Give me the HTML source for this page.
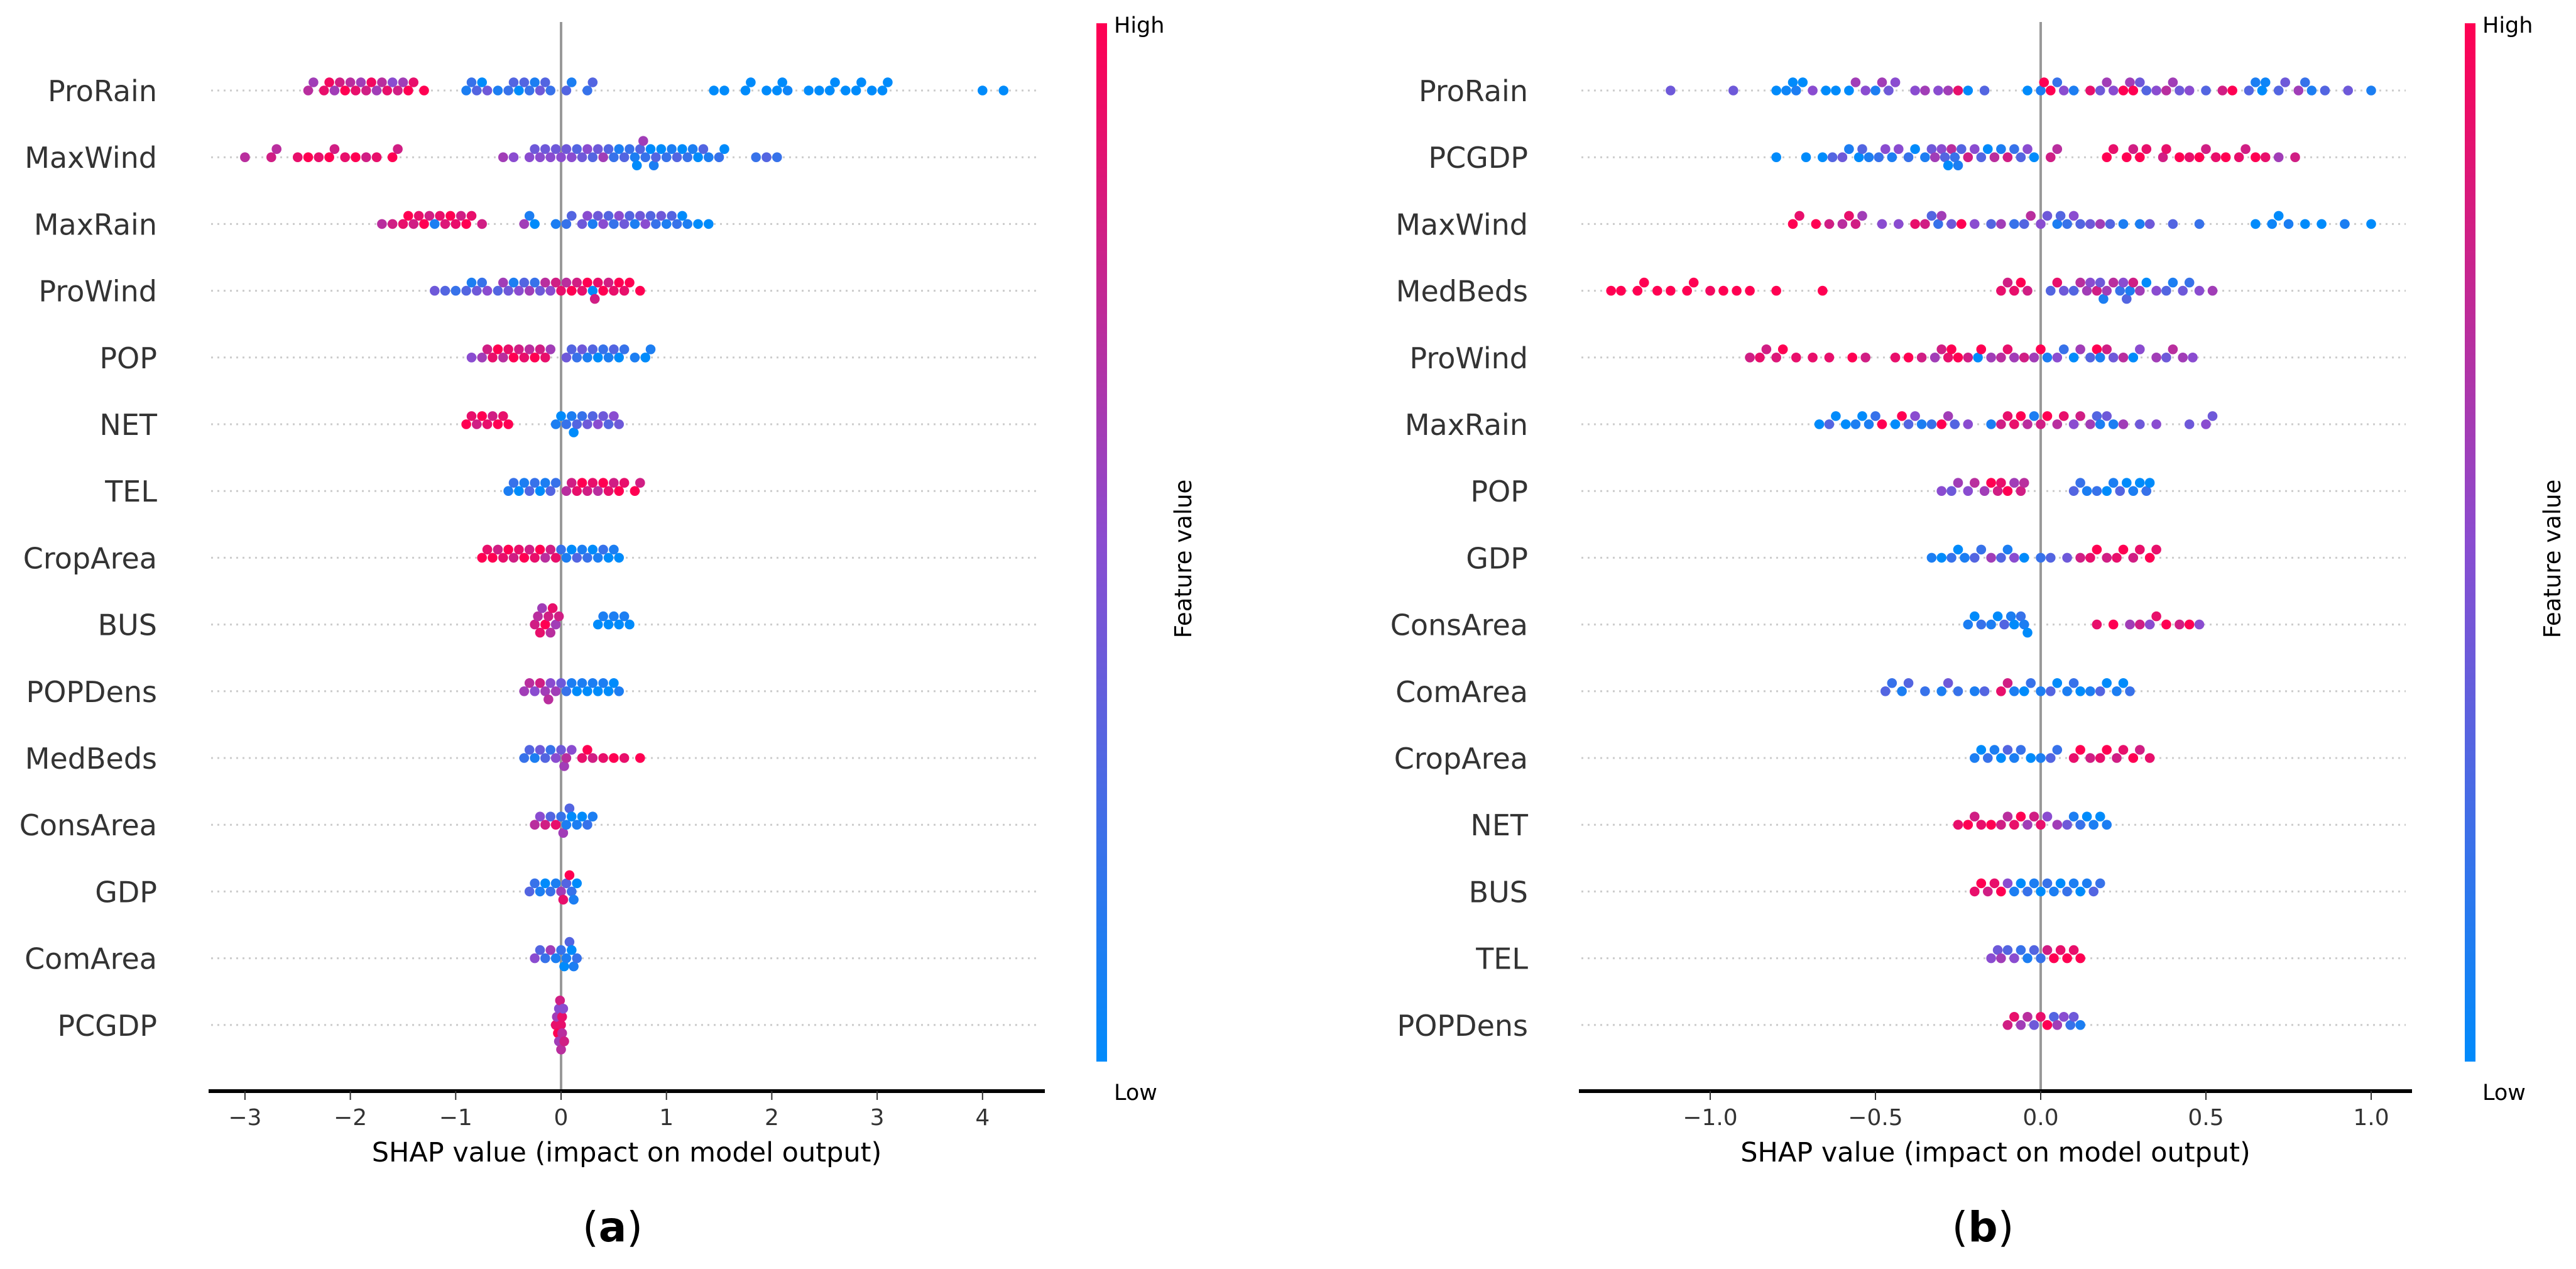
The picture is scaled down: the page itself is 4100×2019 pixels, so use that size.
<!DOCTYPE html>
<html><head><meta charset="utf-8">
<style>
html,body{margin:0;padding:0;background:#fff;}
svg{display:block;}
text{font-family:"DejaVu Sans","Liberation Sans",sans-serif;}
</style></head>
<body>
<svg id="chart" width="4100" height="2019" viewBox="0 0 4100 2019" xmlns="http://www.w3.org/2000/svg">
<defs>
<linearGradient id="cbar" x1="0" y1="1" x2="0" y2="0">
<stop offset="0" stop-color="#008bfb"/><stop offset="0.5" stop-color="#8a4cd0"/><stop offset="1" stop-color="#ff0052"/>
</linearGradient>
</defs>
<g id="panelA"></g>
<g id="panelB"></g>
</svg>
<script>
// ---- Data: panel (a) ----
const featuresA = ["ProRain","MaxWind","MaxRain","ProWind","POP","NET","TEL","CropArea","BUS","POPDens","MedBeds","ConsArea","GDP","ComArea","PCGDP"];
const ticksA = [-3,-2,-1,0,1,2,3,4];
const tickLabelsA = ["\u22123","\u22122","\u22121","0","1","2","3","4"];
// points as "shap:featureValue"
const pointsA = [
"-2.4:.7 -2.35:.6 -2.25:.9 -2.2:.95 -2.15:.6 -2.1:.8 -2.05:1 -2.0:.7 -1.95:.9 -1.9:.6 -1.85:.8 -1.8:.95 -1.75:.6 -1.7:.7 -1.65:.9 -1.6:.5 -1.55:.8 -1.5:.6 -1.45:1 -1.4:.9 -1.3:1 -0.9:.1 -0.85:.2 -0.8:.3 -0.75:0 -0.7:.4 -0.6:.1 -0.5:.2 -0.45:.3 -0.4:0 -0.35:.3 -0.3:.2 -0.25:.1 -0.2:.4 -0.15:.3 -0.1:.2 0.05:.3 0.1:.1 0.25:.2 0.3:.3 1.45:0 1.55:0 1.75:0 1.8:0 1.95:0 2.05:0 2.1:0 2.15:.05 2.35:0 2.45:0 2.55:0 2.6:0 2.7:0 2.8:0 2.85:0 2.95:0 3.05:0 3.1:0 4.0:0 4.2:0",
"-3.0:.7 -2.75:.8 -2.7:.7 -2.5:.9 -2.4:1 -2.3:.9 -2.2:1 -2.15:.8 -2.05:.9 -1.95:1 -1.85:.8 -1.75:.9 -1.6:1 -1.55:.8 -0.55:.6 -0.45:.5 -0.3:.5 -0.25:.4 -0.2:.5 -0.15:.4 -0.1:.5 -0.05:.4 0:.5 0.05:.4 0.1:.5 0.15:.3 0.2:.4 0.25:.5 0.3:.3 0.35:.4 0.4:.6 0.45:.3 0.5:.2 0.55:.1 0.6:.3 0.65:.2 0.7:.1 0.72:0 0.75:.3 0.78:.6 0.8:.2 0.85:0 0.88:.1 0.9:.3 0.95:0 1.0:.2 1.05:.1 1.1:.3 1.15:0 1.2:.2 1.25:.1 1.3:0 1.35:.3 1.4:.1 1.5:.2 1.55:0 1.85:.2 1.95:.3 2.05:.2",
"-1.7:.7 -1.6:.8 -1.5:.9 -1.45:1 -1.4:.8 -1.35:.9 -1.3:1 -1.25:.8 -1.2:.1 -1.15:.9 -1.1:.85 -1.05:1 -1.0:.9 -0.95:.8 -0.9:1 -0.85:.9 -0.75:.8 -0.35:.6 -0.3:.1 -0.25:0 -0.05:.1 0.05:.2 0.1:.3 0.2:.4 0.25:.5 0.3:.1 0.35:.4 0.4:.5 0.45:.3 0.5:.2 0.55:.5 0.6:.4 0.65:.3 0.7:.1 0.75:.4 0.8:.5 0.85:.3 0.9:.2 0.95:.4 1.0:.1 1.05:.3 1.1:.2 1.15:0 1.2:.1 1.3:0 1.4:0",
"-1.2:.4 -1.1:.3 -1.0:.2 -0.9:.3 -0.85:.1 -0.8:.4 -0.75:.2 -0.7:.5 -0.6:.3 -0.55:.6 -0.5:.4 -0.45:.1 -0.4:.5 -0.35:.3 -0.3:.6 -0.25:.2 -0.2:.4 -0.15:.7 -0.1:.5 -0.05:.8 0:.9 0.05:.7 0.1:1 0.15:.8 0.2:.9 0.25:1 0.3:0 0.32:.8 0.35:.9 0.4:1 0.45:.8 0.5:.9 0.55:1 0.6:.9 0.65:1 0.75:1",
"-0.85:.5 -0.75:.6 -0.7:.8 -0.65:.9 -0.6:1 -0.55:.7 -0.5:.9 -0.45:1 -0.4:.8 -0.35:.9 -0.3:.7 -0.25:1 -0.2:.8 -0.15:.9 -0.1:.6 0.05:.4 0.1:.3 0.15:.2 0.2:.4 0.25:.1 0.3:.3 0.35:0 0.4:.2 0.45:.1 0.5:.3 0.55:0 0.6:.2 0.7:.1 0.8:0 0.85:.1",
"-0.9:1 -0.85:.9 -0.8:.8 -0.75:1 -0.7:.9 -0.65:.8 -0.6:1 -0.55:.9 -0.5:1 -0.05:.1 0:0 0.05:.2 0.1:.1 0.12:0 0.15:.3 0.2:.2 0.25:.4 0.3:.3 0.35:.5 0.4:.4 0.45:.3 0.5:.5 0.55:.4",
"-0.5:.1 -0.45:.2 -0.4:0 -0.35:.1 -0.3:.3 -0.25:.2 -0.2:0 -0.15:.1 -0.1:.3 -0.05:.2 0.05:.7 0.1:.8 0.15:.9 0.2:1 0.25:.8 0.3:.9 0.35:.7 0.4:1 0.45:.9 0.5:.8 0.55:1 0.6:.9 0.7:1 0.75:.8",
"-0.75:1 -0.7:.9 -0.65:1 -0.6:.8 -0.55:.9 -0.5:1 -0.45:.8 -0.4:.9 -0.35:1 -0.3:.8 -0.25:.9 -0.2:1 -0.15:.7 -0.1:.8 -0.05:.9 0:.2 0.05:.1 0.1:0 0.15:.3 0.2:.1 0.25:.2 0.3:0 0.35:.1 0.4:.2 0.45:0 0.5:.1 0.55:0",
"-0.25:.8 -0.22:.7 -0.2:.9 -0.18:.6 -0.15:1 -0.12:.8 -0.1:.7 -0.08:.9 -0.05:.6 -0.02:.8 0.35:0 0.4:.1 0.45:0 0.5:.1 0.55:0 0.6:.1 0.65:0",
"-0.35:.6 -0.3:.7 -0.25:.5 -0.2:.8 -0.15:.6 -0.12:.7 -0.1:.5 -0.05:.6 0:.4 0.05:.2 0.1:.1 0.15:0 0.2:.1 0.25:0 0.3:.1 0.35:0 0.4:.1 0.45:0 0.5:0 0.55:.1",
"-0.35:.2 -0.3:.3 -0.25:.1 -0.2:.4 -0.15:.3 -0.1:.2 -0.05:.5 0:.4 0.03:.6 0.05:.7 0.1:.5 0.2:.9 0.25:1 0.3:.8 0.4:.9 0.5:1 0.6:.9 0.75:1",
"-0.25:.7 -0.2:.5 -0.15:.8 -0.1:.3 -0.05:.9 0:.2 0.02:.6 0.05:.1 0.08:.3 0.1:0 0.15:.1 0.2:0 0.25:.2 0.3:.1",
"-0.3:.3 -0.25:.2 -0.2:.1 -0.15:0 -0.1:.2 -0.05:.1 0:.6 0.02:.9 0.05:.3 0.08:1 0.1:.2 0.12:.1 0.15:0",
"-0.25:.5 -0.2:.3 -0.15:.2 -0.1:.6 -0.05:.1 0:.2 0.03:0 0.05:.1 0.08:.3 0.1:0 0.12:.1 0.15:.2",
"-0.05:.9 -0.04:.6 -0.03:1 -0.02:.5 -0.01:.8 0:.7 0.01:.9 0.02:.5 0.03:.8 -0.02:.6 0:.9 0.01:.7"
];
// ---- Data: panel (b) ----
const featuresB = ["ProRain","PCGDP","MaxWind","MedBeds","ProWind","MaxRain","POP","GDP","ConsArea","ComArea","CropArea","NET","BUS","TEL","POPDens"];
const ticksB = [-1.0,-0.5,0,0.5,1.0];
const tickLabelsB = ["\u22121.0","\u22120.5","0.0","0.5","1.0"];
const pointsB = [
"-1.12:.4 -0.93:.4 -0.8:0 -0.77:.05 -0.75:0 -0.74:.1 -0.72:0 -0.69:.5 -0.65:0 -0.62:0 -0.58:0 -0.56:.6 -0.53:.5 -0.5:.1 -0.48:.6 -0.46:.4 -0.44:.5 -0.38:.5 -0.35:.6 -0.31:.5 -0.28:.6 -0.25:.9 -0.22:0 -0.17:.3 -0.04:0 0:.1 0.01:1 0.03:1 0.05:.2 0.07:.5 0.1:.1 0.15:.9 0.18:.4 0.2:.6 0.22:.5 0.25:1 0.27:.6 0.28:1 0.3:.4 0.32:.3 0.35:.5 0.38:.7 0.4:.6 0.42:.4 0.45:.5 0.5:.3 0.55:.8 0.58:1 0.63:.3 0.65:.1 0.67:0 0.68:.05 0.72:.3 0.74:.4 0.78:.6 0.8:.2 0.82:.1 0.86:.3 0.93:.4 1.0:.1",
"-0.8:0 -0.71:0 -0.66:0 -0.63:.3 -0.6:.4 -0.58:.1 -0.55:0 -0.54:.3 -0.52:.1 -0.49:.2 -0.47:.5 -0.45:.1 -0.43:.5 -0.4:.2 -0.38:0 -0.35:.1 -0.33:.4 -0.32:.6 -0.3:.5 -0.29:.3 -0.28:0 -0.27:.7 -0.26:.2 -0.25:.1 -0.24:.3 -0.22:.8 -0.2:.5 -0.18:.3 -0.16:0 -0.14:.7 -0.12:.1 -0.1:.8 -0.08:.2 -0.06:.3 -0.04:.5 -0.02:0 0.03:.8 0.05:.7 0.2:1 0.22:.9 0.26:1 0.28:.8 0.3:1 0.32:.9 0.37:.8 0.38:.9 0.42:1 0.45:.9 0.48:1 0.5:.8 0.53:.9 0.56:1 0.6:.9 0.62:.8 0.65:1 0.68:.9 0.72:.6 0.77:.8",
"-0.75:1 -0.73:.9 -0.68:1 -0.64:.8 -0.6:.7 -0.58:.9 -0.56:.8 -0.54:.6 -0.48:.5 -0.43:.5 -0.38:.9 -0.35:.8 -0.33:.3 -0.31:.2 -0.3:.6 -0.27:.4 -0.24:1 -0.2:.5 -0.15:.3 -0.12:.6 -0.08:.2 -0.05:.3 -0.03:.7 0:.5 0.02:.4 0.05:.1 0.06:.3 0.08:.2 0.1:.5 0.12:.3 0.15:.4 0.18:.6 0.21:.3 0.25:.1 0.3:.1 0.33:.4 0.4:.3 0.48:.2 0.65:0 0.7:.05 0.72:0 0.75:.1 0.8:0 0.85:0 0.92:.1 1.0:0",
"-1.3:1 -1.27:1 -1.22:1 -1.2:1 -1.16:1 -1.12:1 -1.07:1 -1.05:1 -1.0:.95 -0.96:1 -0.92:1 -0.88:1 -0.8:1 -0.66:1 -0.12:.9 -0.1:.8 -0.08:.9 -0.06:1 -0.04:.8 0.03:.3 0.05:.9 0.07:.4 0.1:.3 0.12:.7 0.14:.6 0.15:.5 0.17:.8 0.18:.4 0.19:.1 0.2:.6 0.22:.7 0.24:.2 0.25:.5 0.26:.3 0.27:.1 0.28:.8 0.3:.6 0.32:0 0.35:.5 0.38:.3 0.4:.1 0.43:.4 0.45:.2 0.48:.5 0.52:.6",
"-0.88:.8 -0.85:.9 -0.83:.8 -0.8:.85 -0.78:1 -0.74:.9 -0.69:.9 -0.64:.9 -0.57:1 -0.53:.8 -0.44:.9 -0.4:1 -0.36:.8 -0.32:.6 -0.3:.8 -0.28:.9 -0.27:1 -0.25:1 -0.22:.8 -0.19:0 -0.18:1 -0.15:.6 -0.12:.7 -0.1:.9 -0.08:.6 -0.05:.8 -0.02:.6 0:1 0.02:.1 0.05:.5 0.07:.2 0.1:0 0.12:.6 0.15:.3 0.17:1 0.18:.1 0.2:.8 0.22:.4 0.25:.7 0.28:0 0.3:.5 0.35:.6 0.38:.4 0.4:.7 0.43:.6 0.46:.5",
"-0.67:0 -0.64:.3 -0.62:0 -0.59:0 -0.56:.1 -0.54:0 -0.52:.1 -0.5:.2 -0.48:1 -0.44:0 -0.42:1 -0.4:.3 -0.38:.5 -0.36:.1 -0.33:.2 -0.3:1 -0.28:.6 -0.26:.3 -0.22:.5 -0.15:.1 -0.12:.8 -0.1:.9 -0.08:.9 -0.06:1 -0.04:.7 -0.02:.1 0:.8 0.02:1 0.05:.7 0.07:.9 0.1:.5 0.12:.8 0.15:.6 0.17:.3 0.18:.1 0.2:.4 0.22:.1 0.25:.6 0.3:.4 0.35:.5 0.45:.4 0.5:.5 0.52:.4",
"-0.3:.5 -0.27:.4 -0.25:.6 -0.22:.5 -0.2:.7 -0.17:.6 -0.15:1 -0.13:.8 -0.12:.9 -0.1:1 -0.08:.6 -0.06:.8 -0.05:.7 0.1:.3 0.12:.2 0.14:.1 0.17:.2 0.2:0 0.22:.1 0.24:.3 0.26:0 0.28:.1 0.3:0 0.32:.2 0.33:0",
"-0.33:.1 -0.3:0 -0.27:.2 -0.25:0 -0.23:.1 -0.2:.3 -0.18:.2 -0.15:.6 -0.12:.3 -0.1:.1 -0.08:.5 -0.05:0 0:.2 0.03:.3 0.08:.4 0.12:.8 0.15:.9 0.17:1 0.2:.8 0.23:.9 0.25:1 0.28:.8 0.3:.9 0.33:1 0.35:.9",
"-0.22:.1 -0.2:0 -0.18:.2 -0.15:.1 -0.13:0 -0.11:.3 -0.09:.1 -0.08:0 -0.06:.2 -0.05:.1 -0.04:0 0.17:.9 0.22:1 0.27:.6 0.3:.8 0.33:.5 0.35:.9 0.38:1 0.42:.8 0.45:1 0.48:.5",
"-0.47:.3 -0.45:.2 -0.42:.1 -0.4:.3 -0.35:.2 -0.3:.1 -0.28:.4 -0.25:.2 -0.2:.1 -0.17:.3 -0.12:.9 -0.1:.8 -0.08:.1 -0.05:0 -0.03:.2 0:.1 0.03:.3 0.05:0 0.08:.1 0.1:.2 0.12:0 0.15:.1 0.18:.3 0.2:0 0.23:.1 0.25:0 0.27:.2",
"-0.2:.1 -0.18:0 -0.16:.2 -0.14:.1 -0.12:0 -0.1:.3 -0.08:.1 -0.06:.2 -0.03:0 0:.1 0.03:.3 0.05:.2 0.1:.9 0.12:1 0.15:.8 0.18:.9 0.2:1 0.23:.8 0.25:.9 0.28:1 0.3:.8 0.33:.9",
"-0.25:.9 -0.22:1 -0.2:.8 -0.18:.9 -0.15:1 -0.12:.8 -0.1:.7 -0.08:.9 -0.06:1 -0.04:.6 -0.02:.8 0:.9 0.02:.5 0.05:.6 0.08:.4 0.1:.1 0.12:.2 0.14:0 0.16:.1 0.18:0 0.2:.1",
"-0.2:.9 -0.18:1 -0.16:.8 -0.14:.9 -0.12:1 -0.1:.5 -0.08:.1 -0.06:0 -0.04:.2 -0.02:.1 0:0 0.02:.2 0.04:.1 0.06:0 0.08:.2 0.1:.1 0.12:0 0.14:.1 0.16:.3 0.18:.2",
"-0.15:.5 -0.13:.4 -0.12:.6 -0.1:.3 -0.08:.5 -0.06:.2 -0.04:.1 -0.02:.3 0:.2 0.02:.8 0.04:1 0.06:.9 0.08:1 0.1:.9 0.12:1",
"-0.1:.8 -0.08:.9 -0.06:.6 -0.04:.7 -0.02:.4 0:.9 0.02:1 0.04:.3 0.05:.6 0.07:.5 0.09:.2 0.1:.4 0.12:.1"
];

const NS='http://www.w3.org/2000/svg';
function mk(tag, attrs, parent){const e=document.createElementNS(NS,tag);for(const k in attrs)e.setAttribute(k,attrs[k]);parent.appendChild(e);return e;}
function colorOf(f){
  const a=[0,139,251], m=[138,76,208], b=[255,0,82];
  let c0,c1,t; if(f<0.5){c0=a;c1=m;t=f/0.5;}else{c0=m;c1=b;t=(f-0.5)/0.5;}
  return 'rgb('+c0.map((v,i)=>Math.round(v+(c1[i]-v)*t)).join(',')+')';
}
const rowY0=144, rowStep=106.2;
function panel(g, feats, pts, ticks, tickLabels, x0, x1, xZero, unitPx, labelX, cbX, fvX, panelLetter, letterX){
  const xs=v=>xZero+v*unitPx;
  feats.forEach((f,i)=>{
    const y=rowY0+i*rowStep;
    const gl=mk('line',{x1:x0+4,x2:x1-10,y1:y,y2:y,stroke:'#cccccc','stroke-width':3,'stroke-dasharray':'3,7'},g);
    
    
    const t=mk('text',{x:labelX,y:y+17,'text-anchor':'end','font-size':46,fill:'#333'},g);
    t.textContent=f;
    
    
  });
  const zl=mk('line',{x1:xs(0),x2:xs(0),y1:35,y2:1736,stroke:'#999','stroke-width':4},g);
  
  
  const R=7.8, dy=13;
  pts.forEach((s,i)=>{
    const y=rowY0+i*rowStep;
    const arr=s.trim().split(/\s+/).map(p=>{const q=p.split(':');return {v:+q[0],f:+q[1]};}).sort((a,b)=>a.v-b.v);
    const layers={};
    const order=[0,-1,1,-2,2,-3,3];
    arr.forEach(p=>{
      const px=xs(p.v);
      let k=null;
      for(const L of order){const last=layers[L];if(last===undefined||px-last>=2*R-2){k=L;break;}}
      if(k===null){let best=0,bv=Infinity;for(const L of order){if(layers[L]<bv){bv=layers[L];best=L;}}k=best;}
      layers[k]=px;
      const c=mk('circle',{cx:px.toFixed(1),cy:(y+k*dy).toFixed(1),r:R,fill:colorOf(p.f)},g);
      
      
    });
  });
  const ax=mk('line',{x1:x0,x2:x1,y1:1736,y2:1736,stroke:'#000','stroke-width':6},g);
  
  
  ticks.forEach((t,i)=>{
    const tk=mk('line',{x1:xs(t),x2:xs(t),y1:1736,y2:1750,stroke:'#333','stroke-width':2},g);
    
    
    const tl=mk('text',{x:xs(t),y:1790,'text-anchor':'middle','font-size':36,fill:'#333'},g);
    tl.textContent=tickLabels[i];
    
    
  });
  const xt=mk('text',{x:(x0+x1)/2,y:1848,'text-anchor':'middle','font-size':43,fill:'#000'},g);
  xt.textContent='SHAP value (impact on model output)';
  
  
  const cb=mk('rect',{x:cbX,y:37,width:17,height:1652,fill:'url(#cbar)'},g);
  
  
  const hi=mk('text',{x:cbX+28,y:52,'font-size':35,fill:'#000'},g);hi.textContent='High';
  
  
  const lo=mk('text',{x:cbX+28,y:1750,'font-size':35,fill:'#000'},g);lo.textContent='Low';
  
  
  const fv=mk('text',{x:fvX,y:889,'text-anchor':'middle','font-size':37,fill:'#000',transform:'rotate(-90 '+fvX+' 889)'},g);
  fv.textContent='Feature value';
  
  
  const pl=mk('text',{x:letterX,y:1975,'text-anchor':'middle','font-size':66,fill:'#000','font-family':'Liberation Serif, serif'},g);
  pl.innerHTML='(<tspan font-weight="bold">'+panelLetter+'</tspan>)';
  
  
}
panel(document.getElementById('panelA'),featuresA,pointsA,ticksA,tickLabelsA,332,1663,893,167.7,250,1745,1896,'a',975);
panel(document.getElementById('panelB'),featuresB,pointsB,ticksB,tickLabelsB,2513,3839,3248,526,2432,3923,4075,'b',3156);
</script>
</body></html>
